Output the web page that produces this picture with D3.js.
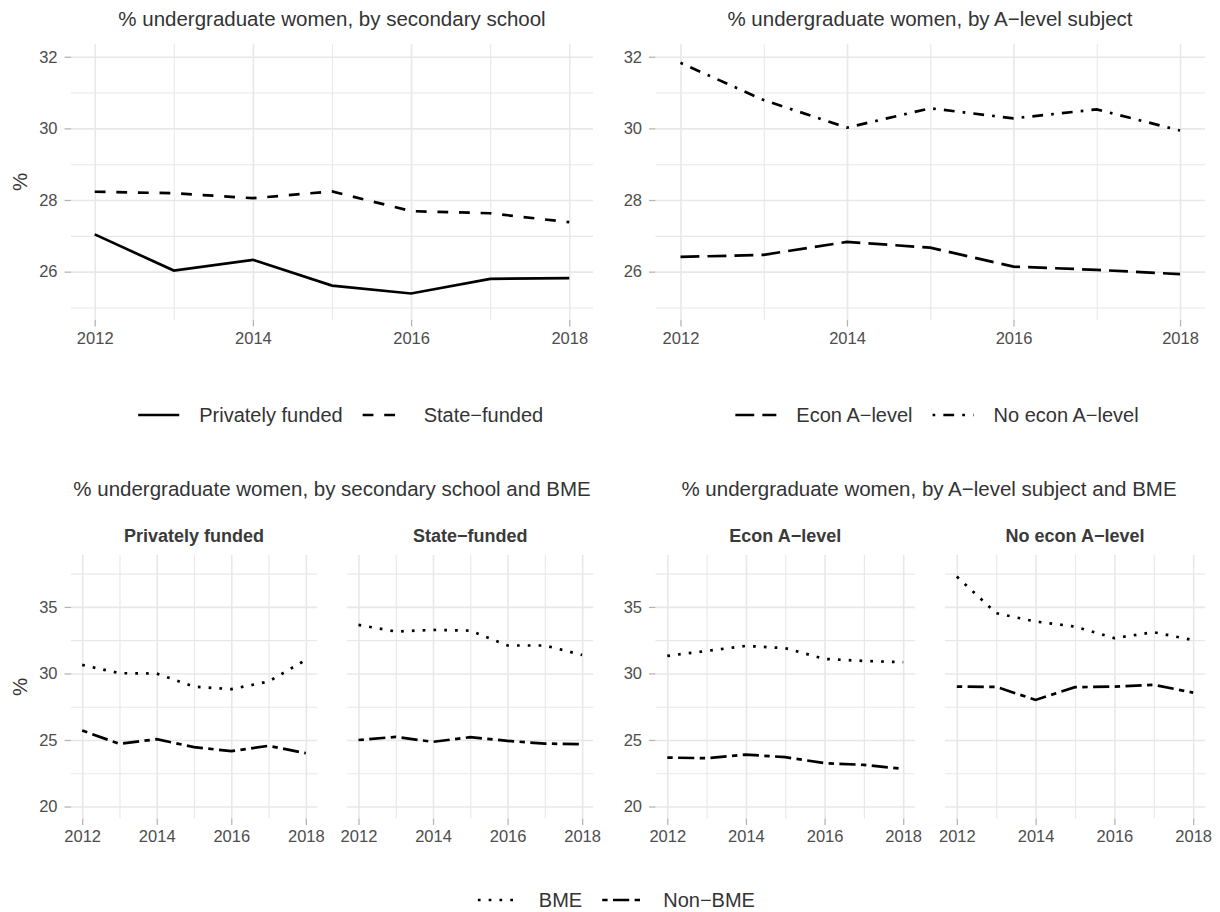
<!DOCTYPE html>
<html>
<head>
<meta charset="utf-8">
<script src="https://cdn.jsdelivr.net/npm/d3@7"></script>
<style>
  body { margin: 0; background: #fff; }
  text { font-family: "Liberation Sans", Arial, sans-serif; }
  .axis .tick text { fill: #4d4d4d; font-size: 16.5px; }
  .axis .tick line { stroke: #b5b5b5; stroke-width: 1.3; }
  .grid .tick line { stroke: #e8e8e8; }
  .title { fill: #333; font-size: 20.5px; }
  .strip { fill: #3a3a3a; font-size: 18px; font-weight: bold; }
  .legend text { fill: #333; font-size: 20px; }
</style>
</head>
<body>
<div id="chart-area"></div>
<script>
// Data
const years = [2012, 2013, 2014, 2015, 2016, 2017, 2018];

const privatelyFunded = [27.04, 26.03, 26.33, 25.61, 25.39, 25.80, 25.82];
const stateFunded     = [28.23, 28.19, 28.05, 28.24, 27.69, 27.63, 27.38];
const econALevel      = [26.41, 26.47, 26.83, 26.67, 26.14, 26.05, 25.93];
const noEconALevel    = [31.83, 30.79, 30.02, 30.56, 30.28, 30.53, 29.94];

const bmePrivate      = [30.64, 30.02, 29.99, 29.01, 28.82, 29.39, 31.02];
const nonBmePrivate   = [25.71, 24.71, 25.06, 24.46, 24.16, 24.56, 24.01];
const bmeState        = [33.65, 33.15, 33.27, 33.22, 32.10, 32.10, 31.39];
const nonBmeState     = [25.00, 25.23, 24.86, 25.21, 24.93, 24.73, 24.68];
const bmeEcon         = [31.32, 31.69, 32.07, 31.90, 31.09, 30.94, 30.84];
const nonBmeEcon      = [23.68, 23.63, 23.90, 23.71, 23.26, 23.13, 22.83];
const bmeNoEcon       = [37.28, 34.53, 33.90, 33.52, 32.65, 33.10, 32.50];
const nonBmeNoEcon    = [29.01, 28.99, 28.01, 28.97, 29.01, 29.14, 28.56];

// Tick values
const xTicks = [2012, 2014, 2016, 2018];
const topYTicks = [26, 28, 30, 32];
const topYMinor = [25, 27, 29, 31];
const bottomYTicks = [20, 25, 30, 35];
const bottomYMinor = [22.5, 27.5, 32.5, 37.5];

// ggplot-like linetypes (units of line width)
const lw = 2.7;
const dash = {
  solid: null,
  dashed: [4, 4],
  longdash: [7, 3],
  dotted: [1, 3],
  dotdash: [1, 3, 4, 3],
  twodash: [2, 2, 6, 2]
};
const dashArray = t => dash[t] ? dash[t].map(v => v * lw).join(",") : null;

let svg = d3
  .select("#chart-area")
  .append("svg")
  .attr("width", 1220)
  .attr("height", 912);

// expand limits by 5% each side like ggplot
const expand = (lo, hi) => [lo - 0.05 * (hi - lo), hi + 0.05 * (hi - lo)];

function drawPanel(p) {
  let x = d3.scaleLinear()
    .domain(expand(2012, 2018))
    .range([p.left, p.right]);
  let y = d3.scaleLinear()
    .domain(expand(p.ylim[0], p.ylim[1]))
    .range([p.bottom, p.top]);

  let g = svg.append("g");

  // grid: minor then major
  g.append("g")
    .attr("class", "grid")
    .attr("transform", "translate(" + p.left + ",0)")
    .call(d3.axisLeft(y).tickValues(p.yMinor).tickSize(-(p.right - p.left)).tickFormat(""))
    .call(s => s.select(".domain").remove())
    .selectAll("line").attr("stroke-width", 1.1);
  g.append("g")
    .attr("class", "grid")
    .attr("transform", "translate(0," + p.bottom + ")")
    .call(d3.axisBottom(x).tickValues(years.filter(d => !xTicks.includes(d))).tickSize(-(p.bottom - p.top)).tickFormat(""))
    .call(s => s.select(".domain").remove())
    .selectAll("line").attr("stroke-width", 1.1);
  g.append("g")
    .attr("class", "grid")
    .attr("transform", "translate(" + p.left + ",0)")
    .call(d3.axisLeft(y).tickValues(p.yTicks).tickSize(-(p.right - p.left)).tickFormat(""))
    .call(s => s.select(".domain").remove())
    .selectAll("line").attr("stroke-width", 1.6);
  g.append("g")
    .attr("class", "grid")
    .attr("transform", "translate(0," + p.bottom + ")")
    .call(d3.axisBottom(x).tickValues(xTicks).tickSize(-(p.bottom - p.top)).tickFormat(""))
    .call(s => s.select(".domain").remove())
    .selectAll("line").attr("stroke-width", 1.6);

  // axes
  g.append("g")
    .attr("class", "axis")
    .attr("transform", "translate(0," + p.bottom + ")")
    .call(d3.axisBottom(x).tickValues(xTicks).tickSize(6.5).tickPadding(5.5).tickFormat(d3.format("d")))
    .call(s => s.select(".domain").remove());
  if (p.showY) {
    g.append("g")
      .attr("class", "axis")
      .attr("transform", "translate(" + p.left + ",0)")
      .call(d3.axisLeft(y).tickValues(p.yTicks).tickSize(6.5).tickPadding(7))
      .call(s => s.select(".domain").remove());
  }

  // lines
  let line = d3.line()
    .x((d, i) => x(years[i]))
    .y(d => y(d));
  p.series.forEach(s => {
    g.append("path")
      .datum(s.values)
      .attr("fill", "none")
      .attr("stroke", "#000")
      .attr("stroke-width", lw)
      .attr("stroke-dasharray", dashArray(s.type))
      .attr("d", line);
  });

  if (p.strip) {
    g.append("text")
      .attr("class", "strip")
      .attr("x", (p.left + p.right) / 2)
      .attr("y", 541.5)
      .attr("text-anchor", "middle")
      .text(p.strip);
  }
}

function drawTitle(text, cx, y) {
  svg.append("text")
    .attr("class", "title")
    .attr("x", cx)
    .attr("y", y)
    .attr("text-anchor", "middle")
    .text(text);
}

function drawYTitle(cy) {
  svg.append("text")
    .attr("class", "title")
    .attr("transform", "translate(19.5," + cy + ") rotate(-90)")
    .attr("text-anchor", "middle")
    .attr("dy", "0.35em")
    .text("%");
}

function drawLegend(items, cx, cy) {
  let g = svg.append("g").attr("class", "legend");
  let keyW = 41, gap = 20;
  let xPos = 0;
  let placed = items.map(it => {
    let t = g.append("text").attr("y", cy).attr("dy", "0.36em").text(it.label);
    let w = t.node().getComputedTextLength();
    let item = { it: it, t: t, x: xPos };
    xPos += keyW + gap + w + gap;
    return item;
  });
  let total = xPos - gap;
  let x0 = cx - total / 2;
  placed.forEach(d => {
    g.append("line")
      .attr("x1", x0 + d.x)
      .attr("x2", x0 + d.x + keyW)
      .attr("y1", cy)
      .attr("y2", cy)
      .attr("stroke", "#000")
      .attr("stroke-width", lw)
      .attr("stroke-dasharray", dashArray(d.it.type));
    d.t.attr("x", x0 + d.x + keyW + gap);
  });
}

// Top row
const topY = { top: 44.2, bottom: 320, ylim: [25, 32], yTicks: topYTicks, yMinor: topYMinor };

drawPanel({ ...topY, left: 71, right: 593, showY: true,
  series: [{ values: privatelyFunded, type: "solid" }, { values: stateFunded, type: "dashed" }] });
drawPanel({ ...topY, left: 655.5, right: 1205, showY: true,
  series: [{ values: econALevel, type: "longdash" }, { values: noEconALevel, type: "dotdash" }] });

drawTitle("% undergraduate women, by secondary school", 332, 26);
drawTitle("% undergraduate women, by A\u2212level subject", 930, 26);
drawYTitle(182);

drawLegend([{ label: "Privately funded", type: "solid" }, { label: "State\u2212funded", type: "dashed" }], 340.7, 415);
drawLegend([{ label: "Econ A\u2212level", type: "longdash" }, { label: "No econ A\u2212level", type: "dotdash" }], 937, 415);

// Bottom row
const botY = { top: 555, bottom: 818.5, ylim: [20, 38], yTicks: bottomYTicks, yMinor: bottomYMinor };

drawPanel({ ...botY, left: 71, right: 317, showY: true, strip: "Privately funded",
  series: [{ values: bmePrivate, type: "dotted" }, { values: nonBmePrivate, type: "twodash" }] });
drawPanel({ ...botY, left: 347.3, right: 593.3, showY: false, strip: "State\u2212funded",
  series: [{ values: bmeState, type: "dotted" }, { values: nonBmeState, type: "twodash" }] });
drawPanel({ ...botY, left: 655.5, right: 915, showY: true, strip: "Econ A\u2212level",
  series: [{ values: bmeEcon, type: "dotted" }, { values: nonBmeEcon, type: "twodash" }] });
drawPanel({ ...botY, left: 945, right: 1205, showY: false, strip: "No econ A\u2212level",
  series: [{ values: bmeNoEcon, type: "dotted" }, { values: nonBmeNoEcon, type: "twodash" }] });

drawTitle("% undergraduate women, by secondary school and BME", 332, 496);
drawTitle("% undergraduate women, by A\u2212level subject and BME", 929, 496);
drawYTitle(687);

drawLegend([{ label: "BME", type: "dotted" }, { label: "Non\u2212BME", type: "twodash" }], 616.4, 900);
</script>
</body>
</html>
